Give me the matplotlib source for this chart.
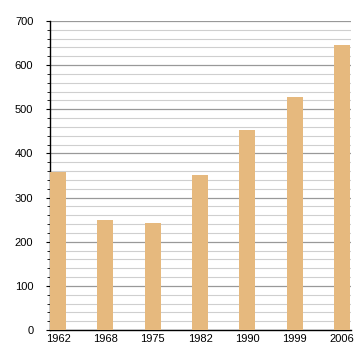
import numpy as np
import matplotlib.pyplot as plt
from matplotlib.ticker import MultipleLocator

plt.rcParams['font.family'] = ['Liberation Sans', 'DejaVu Sans']

# dados do gráfico
years = ['1962', '1968', '1975', '1982', '1990', '1999', '2006']
values = [358, 249, 243, 351, 453, 528, 646]

fig = plt.figure(figsize=(3.6, 3.6), dpi=100)
ax = fig.add_axes([0.139, 0.083, 0.836, 0.859])

x = np.arange(len(years))
ax.bar(x, values, width=0.34, color='#e6b97e', zorder=3)

ax.set_xlim(-0.17, 6.19)
ax.set_ylim(0, 700)
ax.set_xticks(x)
ax.set_xticklabels(years)
ax.yaxis.set_major_locator(MultipleLocator(100))
ax.yaxis.set_minor_locator(MultipleLocator(20))

# grade
ax.grid(axis='y', which='major', color='#999999', linewidth=0.9, zorder=0)
ax.grid(axis='y', which='minor', color='#cfcfcf', linewidth=0.8, zorder=0)

ax.tick_params(axis='x', length=0, labelsize=8, pad=3)
ax.tick_params(axis='y', which='major', length=3, labelsize=8, pad=9)
ax.tick_params(axis='y', which='minor', length=2)

for s in ['top', 'right']:
    ax.spines[s].set_visible(False)
ax.spines['left'].set_linewidth(1)
ax.spines['bottom'].set_linewidth(1)

fig.savefig('out.png', dpi=100)
